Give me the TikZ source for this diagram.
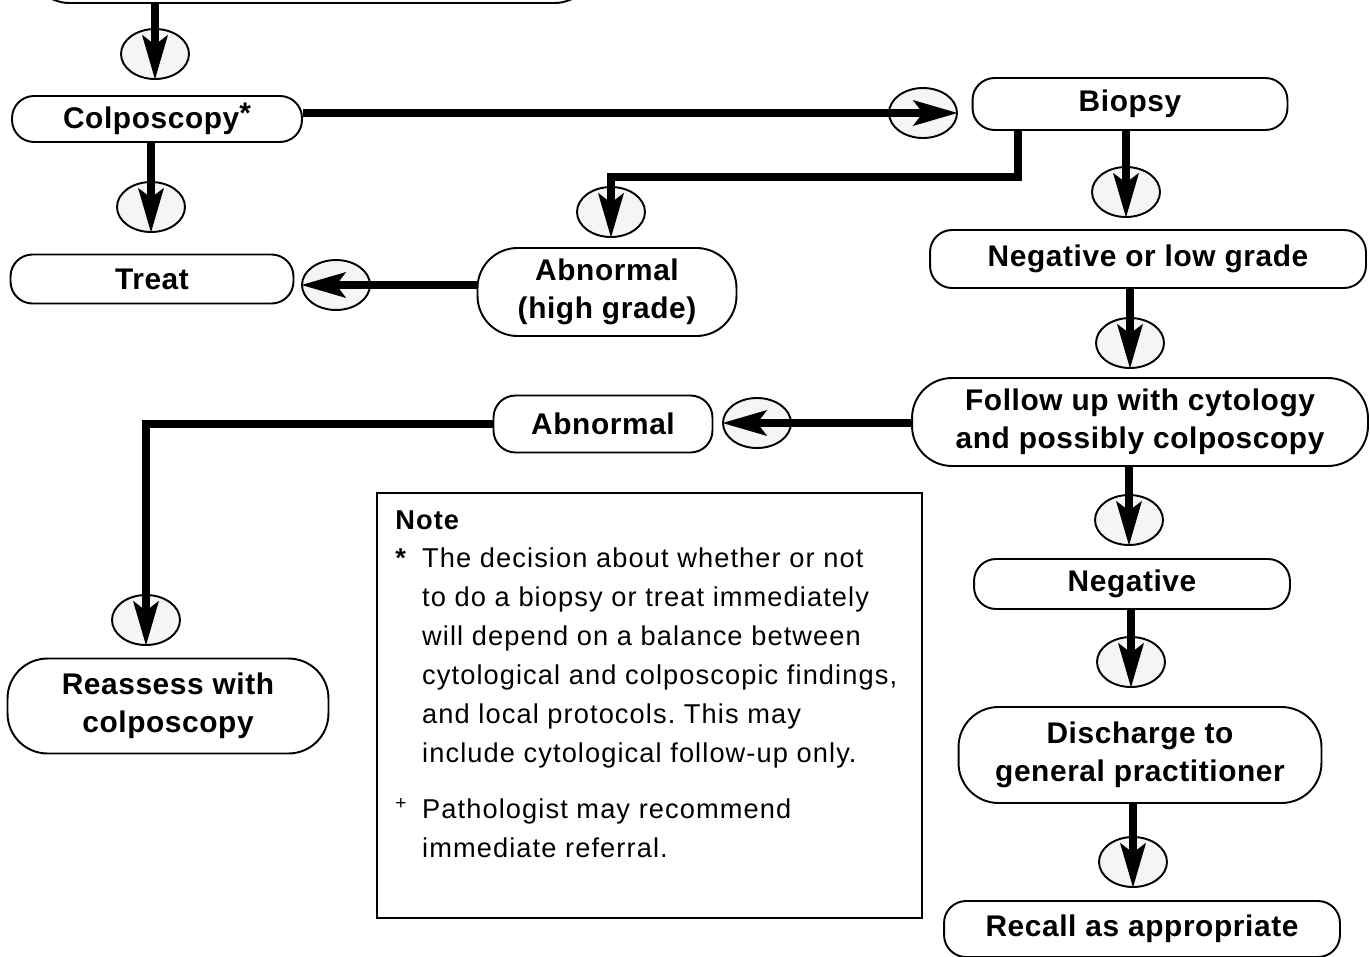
\documentclass[tikz,border=0pt]{standalone}
\usepackage{fontspec}
\setmainfont{Liberation Sans}
\newfontfamily\boxfont[LetterSpace=2]{Liberation Sans}
\newfontfamily\notefont[LetterSpace=4]{Liberation Sans}
\usetikzlibrary{arrows.meta,shapes.geometric}
\frenchspacing

\begin{document}
\begin{tikzpicture}[x=0.02cm, y=-0.02cm,
	stage/.style={draw, line width=1.1pt, rounded corners=#1, align=center, inner sep=0pt,
		font=\boxfont\bfseries\fontsize{17}{21.5}\selectfont},
	stage/.default=0.44cm,
	ring/.style={draw, ellipse, line width=1.1pt, fill=gray!8, minimum width=1.36cm,
		minimum height=1cm, inner sep=0pt},
	flow/.style={line width=4.5pt, -{Stealth[length=25pt, width=14pt, inset=5pt]}}]
	\useasboundingbox (0,0) rectangle (1370,957);
	\clip (0,0) rectangle (1370,957);
	% boxes
	\node[stage=0.8cm, minimum width=11.3cm, minimum height=1.4cm] (referral) at (312,-32) {};
	\node[stage, minimum width=5.8cm, minimum height=0.92cm] (colpo) at (157,119) {Colposcopy\raisebox{3pt}{*}};
	\node[stage, minimum width=6.3cm, minimum height=1.04cm] (biopsy) at (1130,104) {Biopsy};
	\node[stage, minimum width=5.66cm, minimum height=0.98cm] (treat) at (152,279) {Treat};
	\node[stage=0.8cm, minimum width=5.18cm, minimum height=1.76cm] (highgrade) at (607,292) {Abnormal\\(high grade)};
	\node[stage, minimum width=8.72cm, minimum height=1.16cm] (neglow) at (1148,259) {Negative or low grade};
	\node[stage=0.8cm, minimum width=9.12cm, minimum height=1.76cm] (followup) at (1140,422) {Follow up with cytology\\and possibly colposcopy};
	\node[stage, minimum width=4.38cm, minimum height=1.14cm] (abnormal) at (603,424) {Abnormal};
	\node[stage=0.8cm, minimum width=6.42cm, minimum height=1.9cm] (reassess) at (168,706) {Reassess with\\colposcopy};
	\node[stage, minimum width=6.32cm, minimum height=1cm] (negative) at (1132,584) {Negative};
	\node[stage=0.8cm, minimum width=7.26cm, minimum height=1.92cm] (discharge) at (1140,755) {Discharge to\\general practitioner};
	\node[stage, minimum width=7.92cm, minimum height=1.12cm] (recall) at (1142,929) {Recall as appropriate};
	% note
	\node[draw, line width=1.1pt, minimum width=10.9cm, minimum height=8.5cm, inner sep=0pt] (notebox) at (649.5,705.5) {};
	\node[anchor=north west, align=left, inner sep=0pt, font=\notefont\fontsize{15.5}{22.1}\selectfont] (notetext) at (395,510) {%
		{\bfseries Note}\\
		\makebox[15.3pt][l]{\bfseries *}The decision about whether or not\\
		\hspace*{15.3pt}to do a biopsy or treat immediately\\
		\hspace*{15.3pt}will depend on a balance between\\
		\hspace*{15.3pt}cytological and colposcopic findings,\\
		\hspace*{15.3pt}and local protocols. This may\\
		\hspace*{15.3pt}include cytological follow-up only.\\[10pt]
		\makebox[15.3pt][l]{\textsuperscript{+}}Pathologist may recommend\\
		\hspace*{15.3pt}immediate referral.};
	% rings round the arrow tips
	\node[ring] (r1) at (155,54) {};
	\node[ring] (r2) at (923,113) {};
	\node[ring] (r3) at (151,207) {};
	\node[ring] (r4) at (611,212) {};
	\node[ring] (r5) at (1126,192) {};
	\node[ring] (r6) at (336,285) {};
	\node[ring] (r7) at (1130,343) {};
	\node[ring] (r8) at (757,423) {};
	\node[ring] (r9) at (146,620) {};
	\node[ring] (r10) at (1129,520) {};
	\node[ring] (r11) at (1131,662) {};
	\node[ring] (r12) at (1133,862) {};
	% arrows
	\coordinate (turn) at (1018,177);
	\draw[flow] (referral.south -| r1) -- (r1.south);
	\draw[flow] (colpo.east |- r2) -- (r2.east);
	\draw[flow] (colpo.south -| r3) -- (r3.south);
	\draw[flow] (biopsy.south -| turn) -- (turn) -| (r4.south);
	\draw[flow] (biopsy.south -| r5) -- (r5.south);
	\draw[flow] (highgrade.west |- r6) -- (r6.west);
	\draw[flow] (neglow.south -| r7) -- (r7.south);
	\draw[flow] (followup.west |- r8) -- (r8.west);
	\draw[flow] (abnormal.west) -| (r9.south);
	\draw[flow] (followup.south -| r10) -- (r10.south);
	\draw[flow] (negative.south -| r11) -- (r11.south);
	\draw[flow] (discharge.south -| r12) -- (r12.south);
\end{tikzpicture}
\end{document}
